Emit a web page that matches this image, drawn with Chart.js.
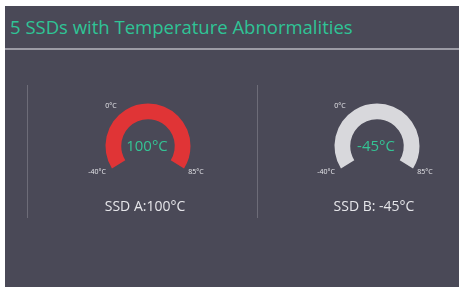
<html lang="en">
<head>
    <meta charset="UTF-8">
    <title>SSD Temperature</title>
    <script src="https://cdn.jsdelivr.net/npm/chart.js"></script>
    <style>
        body { margin: 0; background: #ffffff; width: 459px; height: 287px; overflow: hidden; position: relative; font-family: "Open Sans", sans-serif; }
        #panel { position: absolute; left: 5px; top: 6px; right: 0; bottom: 0; background: #4a4957; }
        #title { position: absolute; left: 10px; top: 14px; font-size: 18.5px; color: #2fc496; white-space: nowrap; }
        #sep { position: absolute; left: 5px; right: 0; top: 48px; height: 2px; background: #9c9ba5; }
        .divider { position: absolute; top: 85px; height: 133px; width: 1px; background: #6d6c78; }
        canvas { position: absolute; }
    </style>
</head>
<body>
    <div id="panel"></div>
    <div id="title">5 SSDs with Temperature Abnormalities</div>
    <div id="sep"></div>
    <div class="divider" style="left:27px"></div>
    <div class="divider" style="left:257px"></div>

    <canvas id="gaugeA" width="200" height="160" style="left:48px; top:56px"></canvas>
    <canvas id="gaugeB" width="200" height="160" style="left:277px; top:56px"></canvas>

    <script>
        // data
        const drives = ['SSD A', 'SSD B'];
        const temps = [100, -45];
        const scaleMin = -40;
        const scaleMax = 85;
        const tickLabels = ['-40°C', '0°C', '85°C'];
        const bottomLabels = ['SSD A:100°C', 'SSD B: -45°C'];
        const fillColors = ['#e03436', '#e03436'];

        const gaugeText = {
            id: 'gaugeText',
            afterDraw(chart, args, opts) {
                const arc = chart.getDatasetMeta(0).data[0];
                const cx = arc.x, cy = arc.y;
                const ctx = chart.ctx;
                ctx.save();
                ctx.textAlign = 'center';
                ctx.textBaseline = 'middle';

                ctx.fillStyle = '#34c495';
                ctx.font = '15px "Open Sans"';
                ctx.fillText(opts.center, cx - 1, cy + 1);

                ctx.fillStyle = '#e6e6ea';
                ctx.font = '7px "Open Sans"';
                ctx.fillText(tickLabels[0], cx - 51, cy + 26);
                ctx.fillText(tickLabels[1], cx - 37, cy - 40);
                ctx.fillText(tickLabels[2], cx + 48, cy + 26);

                ctx.font = '14px "Open Sans"';
                ctx.fillText(opts.bottom, cx - 3, cy + 61);
                ctx.restore();
            }
        };

        function makeGauge(id, i) {
            const t = Math.min(Math.max(temps[i], scaleMin), scaleMax);
            const filled = t - scaleMin;
            const rest = scaleMax - t;
            new Chart(document.getElementById(id), {
                type: 'doughnut',
                data: {
                    labels: ['value', 'rest'],
                    datasets: [{
                        data: [filled, rest],
                        backgroundColor: [fillColors[i], '#d8d8dc'],
                        borderWidth: 0
                    }]
                },
                options: {
                    responsive: false,
                    animation: false,
                    rotation: -122,
                    circumference: 244,
                    radius: 42.5,
                    cutout: '63%',
                    plugins: {
                        legend: { display: false },
                        tooltip: { enabled: false },
                        gaugeText: { center: temps[i] + '°C', bottom: bottomLabels[i] }
                    }
                },
                plugins: [gaugeText]
            });
        }

        makeGauge('gaugeA', 0);
        makeGauge('gaugeB', 1);
    </script>
</body>
</html>
